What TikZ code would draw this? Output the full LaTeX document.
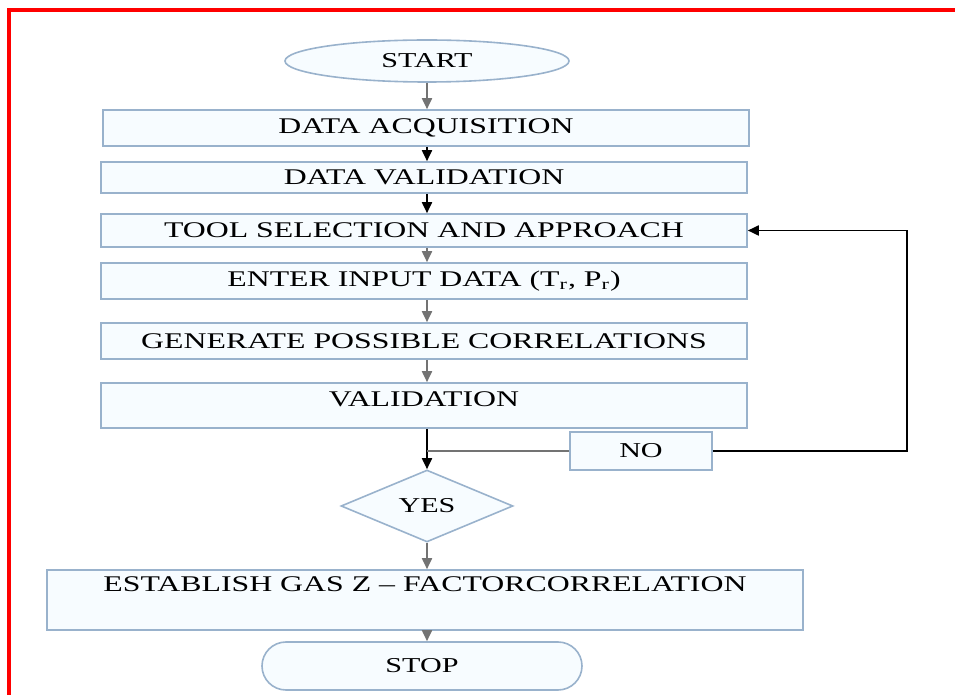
\documentclass[tikz,border=0pt]{standalone}
\usepackage{fontspec}
\setmainfont{Liberation Serif}[FakeStretch=1.42]
\usepackage{tikz}
\usetikzlibrary{calc,positioning,shapes.geometric,shapes.misc,arrows.meta}
\usepackage{xcolor}
\definecolor{boxline}{rgb}{0.60,0.70,0.80}
\definecolor{boxfill}{rgb}{0.97,0.99,1.00}
\definecolor{flowgray}{rgb}{0.45,0.45,0.45}

\tikzset{
  stepbox/.style={draw=boxline, fill=boxfill, line width=0.8pt, inner sep=0pt,
    minimum width=323pt, font=\fontsize{11.2}{13}\selectfont},
  termbox/.style={draw=boxline, fill=boxfill, line width=0.8pt, inner sep=0pt,
    font=\fontsize{10.6}{13}\selectfont},
  flow/.style={line width=0.9pt, draw=flowgray, -{Triangle[length=5.5pt,width=5pt]}},
  flowblack/.style={line width=0.9pt, draw=black, -{Triangle[length=5.5pt,width=5pt]}}
}

\begin{document}
\begin{tikzpicture}[x=0.5pt, y=-0.5pt]
\useasboundingbox (0,0) rectangle (955,695);

%====================================================
% MARCO ROJO
%====================================================
\draw[red, line width=1.6pt] (9,695) -- (9,10) -- (955,10);

%====================================================
% NODOS
%====================================================
\node[termbox, ellipse, minimum width=142pt, minimum height=21pt] (start) at (427,61) {START};
\node[stepbox, minimum width=323pt, minimum height=18pt] (acq) at (426,128) {DATA ACQUISITION};
\node[stepbox, minimum height=15.5pt] (dval) at (424,177.5) {DATA VALIDATION};
\node[stepbox, minimum height=16.5pt] (tool) at (424,230.5) {TOOL SELECTION AND APPROACH};
\node[stepbox, minimum height=18pt] (input) at (424,281) {ENTER INPUT DATA (T\textsubscript{r}, P\textsubscript{r})};
\node[stepbox, minimum height=18pt] (gen) at (424,341) {GENERATE POSSIBLE CORRELATIONS};
\node[stepbox, text height=12pt, text depth=10.5pt] (valid) at (424,405.5) {VALIDATION};
\node[termbox, minimum width=71pt, minimum height=19pt] (no) at (641,451) {NO};
\node[termbox, diamond, minimum width=86pt, minimum height=36pt] (yes) at (427,506) {YES};
\node[stepbox, minimum width=378pt, text height=11pt, text depth=19pt] (est) at (425,600)
  {ESTABLISH GAS Z -- FACTORCORRELATION};
\node[termbox, rounded rectangle, minimum width=160pt, minimum height=24pt] (stop) at (422,666) {STOP};

\coordinate (loopcorner) at (907,451);

%====================================================
% CONECTORES
%====================================================
\draw[flow] (start) -- (start |- acq.north);
\draw[flowblack] (acq.south -| start) -- (dval.north -| start);
\draw[flowblack] (dval.south -| start) -- (tool.north -| start);
\draw[flow] (tool.south -| start) -- (input.north -| start);
\draw[flow] (input.south -| start) -- (gen.north -| start);
\draw[flow] (gen.south -| start) -- (valid.north -| start);
\draw[flowblack] (valid.south -| yes) -- (yes.north);
\draw[line width=0.9pt, flowgray] (no.west) -- (no.west -| yes);
\draw[flowblack] (no.east) -- (loopcorner) |- (tool.east);
\draw[flow] (yes.south) -- (yes |- est.north);
\draw[flow] (est.south -| yes) -- (yes |- stop.north);
\end{tikzpicture}
\end{document}
